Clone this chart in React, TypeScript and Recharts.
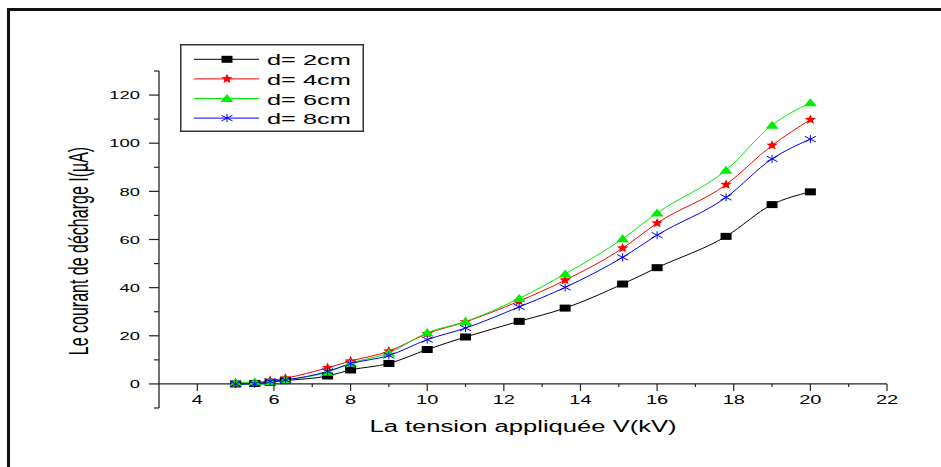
import React from 'react';
import { LineChart, Line, XAxis, YAxis, ReferenceLine, Legend } from 'recharts';

// Applied voltage (kV) and discharge current (µA) for each electrode gap
const voltage = [5, 5.5, 5.9, 6.3, 7.4, 8, 9, 10, 11, 12.4, 13.6, 15.1, 16, 17.8, 19, 20];
const d2cm = [0, 0.2, 0.7, 1.4, 3.3, 5.8, 8.5, 14.3, 19.5, 26, 31.5, 41.5, 48.3, 61.3, 74.5, 79.8];
const d4cm = [0.3, 0.5, 1.4, 2.4, 6.7, 9.5, 13.6, 20.9, 25.8, 34.4, 43.1, 56.4, 66.8, 82.8, 99.1, 109.8];
const d6cm = [0.5, 0.8, 1.0, 1.7, 4.9, 8.6, 12.9, 21.3, 25.9, 35.5, 45.7, 60.3, 71.0, 88.8, 107.5, 116.8];
const d8cm = [0, 0, 1.1, 1.7, 5.2, 8.4, 11.8, 18.4, 23.2, 32.0, 40.1, 52.6, 61.8, 77.5, 93.5, 101.7];

const xTicks = [4, 5, 6, 7, 8, 9, 10, 11, 12, 13, 14, 15, 16, 17, 18, 19, 20, 21, 22];
const yTicks = [-10, 0, 10, 20, 30, 40, 50, 60, 70, 80, 90, 100, 110, 120, 130];

const series = [
  { key: 'd2', name: 'd= 2cm', color: '#000000', marker: 'square', values: d2cm },
  { key: 'd4', name: 'd= 4cm', color: '#ff0000', marker: 'star', values: d4cm },
  { key: 'd6', name: 'd= 6cm', color: '#00ee00', marker: 'triangle', values: d6cm },
  { key: 'd8', name: 'd= 8cm', color: '#0000ff', marker: 'asterisk', values: d8cm },
];

const data = voltage.map((v, i) => {
  const row: Record<string, number> = { v };
  series.forEach((s) => (row[s.key] = s.values[i]));
  return row;
});

const W = 941;
const H = 467;
const MARGIN = { top: 71, right: 54, bottom: 29, left: 99 };
const Y_AXIS_W = 60;
const X_AXIS_H = 30;
const Y_MIN = -10;
const Y_MAX = 130;
const PLOT_TOP = MARGIN.top;
const PLOT_BOTTOM = H - MARGIN.bottom - X_AXIS_H;
// pixel row of I = 0, where the horizontal axis sits
const ZERO_Y = PLOT_TOP + ((PLOT_BOTTOM - PLOT_TOP) * Y_MAX) / (Y_MAX - Y_MIN);

const FONT = '"Liberation Sans", Arial, sans-serif';
const STRETCH = 1.6; // the original figure is widened horizontally

const Marker = ({ cx, cy, kind, color }: any) => {
  if (cx == null || cy == null) return null;
  if (kind === 'square') {
    return <rect x={cx - 5.5} y={cy - 3.5} width={11} height={7} fill={color} />;
  }
  if (kind === 'triangle') {
    return (
      <polygon
        points={`${cx},${cy - 4.5} ${cx + 6.5},${cy + 3.5} ${cx - 6.5},${cy + 3.5}`}
        fill={color}
      />
    );
  }
  if (kind === 'star') {
    const pts: string[] = [];
    for (let k = 0; k < 10; k++) {
      const r = k % 2 ? 0.45 : 1;
      const a = ((-90 + k * 36) * Math.PI) / 180;
      pts.push(`${cx + r * Math.cos(a) * 6},${cy + r * Math.sin(a) * 5.2}`);
    }
    return <polygon points={pts.join(' ')} fill={color} />;
  }
  return (
    <g stroke={color} strokeWidth={1}>
      <line x1={cx} y1={cy - 4} x2={cx} y2={cy + 4} />
      <line x1={cx - 5.5} y1={cy - 2.8} x2={cx + 5.5} y2={cy + 2.8} />
      <line x1={cx - 5.5} y1={cy + 2.8} x2={cx + 5.5} y2={cy - 2.8} />
    </g>
  );
};

const XTick = ({ x, payload }: any) => {
  const major = payload.value % 2 === 0;
  return (
    <g>
      <line x1={x} y1={ZERO_Y} x2={x} y2={ZERO_Y + (major ? 7 : 3)} stroke="#222" strokeWidth={1.2} />
      {major && (
        <g transform={`translate(${x},${ZERO_Y + 20}) scale(${STRETCH},1)`}>
          <text textAnchor="middle" fontFamily={FONT} fontSize={12.5} fill="#000">
            {payload.value}
          </text>
        </g>
      )}
    </g>
  );
};

const YTick = ({ x, y, payload }: any) => {
  const v = payload.value;
  const major = v % 20 === 0;
  return (
    <g>
      <line x1={x - (major ? 10 : 5)} y1={y} x2={x} y2={y} stroke="#222" strokeWidth={1.2} />
      {major && v >= 0 && (
        <g transform={`translate(${x - 19},${y}) scale(${STRETCH},1)`}>
          <text textAnchor="end" dy="0.36em" fontFamily={FONT} fontSize={11.5} fill="#000">
            {v}
          </text>
        </g>
      )}
    </g>
  );
};

const renderLegend = () => (
  <svg width={184} height={88} style={{ display: 'block' }}>
    <rect x={0.75} y={0.75} width={182.5} height={86.5} fill="#fff" stroke="#333" strokeWidth={1.5} />
    {series.map((s, i) => {
      const cy = 15.3 + i * 19.6;
      return (
        <g key={s.key}>
          <line x1={14} y1={cy} x2={79} y2={cy} stroke={s.color} strokeWidth={1} />
          <Marker cx={47} cy={cy} kind={s.marker} color={s.color} />
          <g transform={`translate(87,${cy + 6}) scale(1.75,1)`}>
            <text fontFamily={FONT} fontSize={14.5} fill="#000">
              {s.name}
            </text>
          </g>
        </g>
      );
    })}
  </svg>
);

export default function App() {
  return (
    <div
      style={{
        position: 'absolute',
        left: 0,
        top: 0,
        width: W,
        height: H,
        overflow: 'hidden',
        background: '#fff',
      }}
    >
      <div
        style={{
          position: 'absolute',
          left: 7,
          top: 8,
          width: 1000,
          height: 1000,
          border: '3px solid #111',
          boxSizing: 'border-box',
        }}
      />
      <div style={{ position: 'absolute', left: 0, top: 0 }}>
        <LineChart width={W} height={H} data={data} margin={MARGIN}>
          <XAxis
            dataKey="v"
            type="number"
            domain={[3, 22]}
            ticks={xTicks}
            interval={0}
            height={X_AXIS_H}
            axisLine={false}
            tickLine={false}
            tickSize={0}
            tickMargin={0}
            tick={<XTick />}
            label={{
              content: () => (
                <g transform={`translate(523,432) scale(${STRETCH},1)`}>
                  <text textAnchor="middle" fontFamily={FONT} fontSize={16} fill="#000">
                    La tension appliquée V(kV)
                  </text>
                </g>
              ),
            }}
          />
          <YAxis
            type="number"
            domain={[Y_MIN, Y_MAX]}
            ticks={yTicks}
            interval={0}
            width={Y_AXIS_W}
            axisLine={{ stroke: '#222', strokeWidth: 1.3 }}
            tickLine={false}
            tickSize={0}
            tickMargin={0}
            tick={<YTick />}
            label={{
              content: () => (
                <g transform={`translate(88,251) scale(1.75,1) rotate(-90)`}>
                  <text textAnchor="middle" fontFamily={FONT} fontSize={16} fill="#000">
                    Le courant de décharge I(µA)
                  </text>
                </g>
              ),
            }}
          />
          <ReferenceLine y={0} stroke="#222" strokeWidth={1.3} />
          <Legend
            layout="horizontal"
            verticalAlign="middle"
            align="center"
            wrapperStyle={{ left: 180, top: 44, width: 184, height: 88 }}
            content={renderLegend}
          />
          {series.map((s) => (
            <Line
              key={s.key}
              dataKey={s.key}
              name={s.name}
              type="monotone"
              stroke={s.color}
              strokeWidth={1}
              isAnimationActive={false}
              activeDot={false}
              dot={(p: any) => (
                <Marker key={`${s.key}-${p.index}`} cx={p.cx} cy={p.cy} kind={s.marker} color={s.color} />
              )}
            />
          ))}
        </LineChart>
      </div>
    </div>
  );
}
